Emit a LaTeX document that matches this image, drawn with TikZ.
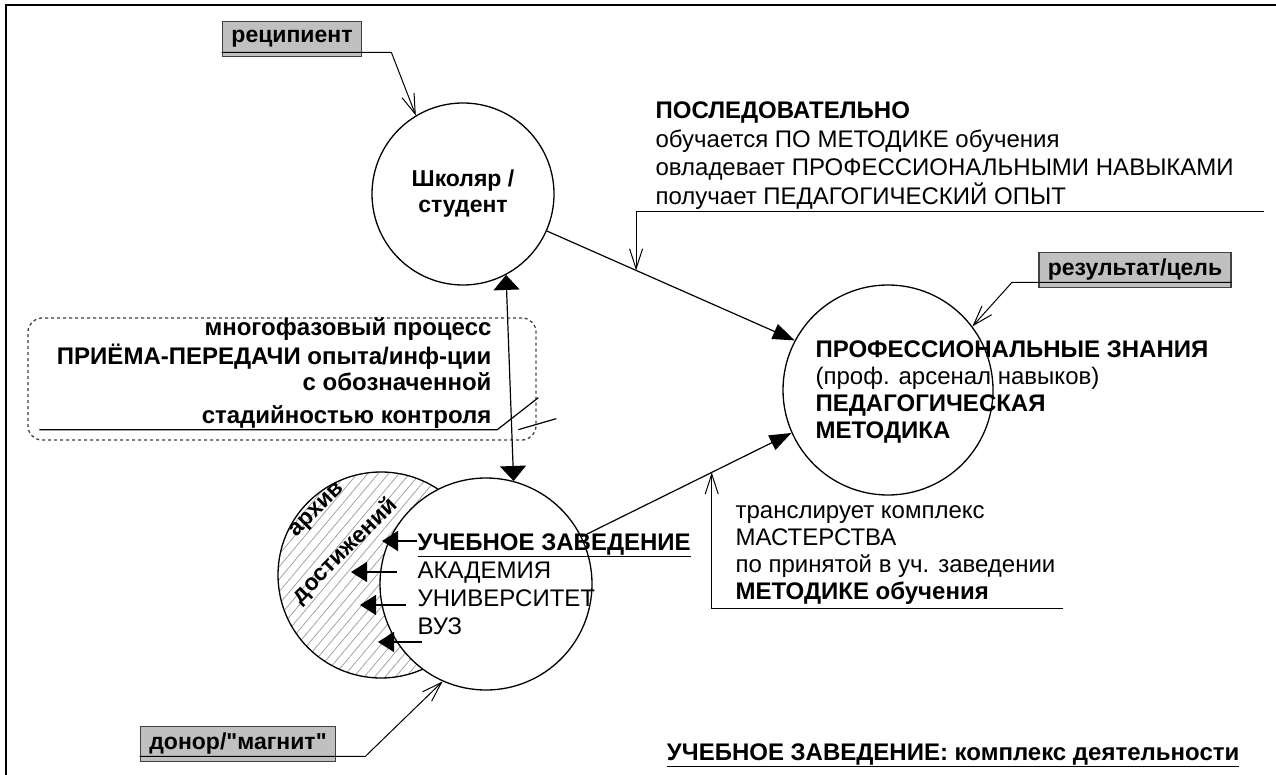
\documentclass[tikz,border=0pt]{standalone}
\usepackage{fontspec}
\setmainfont{Liberation Sans}[Ligatures=TeXOff]
\usetikzlibrary{arrows.meta,patterns.meta}

\definecolor{tagfill}{HTML}{C0C0C0}
\definecolor{tagline}{HTML}{404040}

\begin{document}
\begin{tikzpicture}
  [x=1pt,y=-1pt,line width=1.2pt,
   ring/.style={circle,draw,line width=1.3pt,inner sep=0pt},
   tagbox/.style={draw=tagline,fill=tagfill,line width=1.6pt,inner xsep=9pt,
     minimum height=35pt,font=\fontsize{23}{26}\selectfont\bfseries},
   txt/.style={inner sep=0pt,align=left,anchor=north west},
   solidtip/.style={-{Triangle[length=22pt,width=16pt]}},
   smalltip/.style={-{Triangle[length=16pt,width=20pt]}},
   bothtip/.style={{Triangle[length=15pt,width=26pt]}-{Triangle[length=15pt,width=26pt]}},
   barb/.style={-{Straight Barb[length=20pt,width=13pt]},line width=1pt}]
  \useasboundingbox (0,0) rectangle (1276,775);
  % frame
  \draw[line width=2.2pt] (6,775) -- (6,5) -- (1276,5);

  % circles
  \node[ring,minimum size=206pt,
    pattern={Lines[angle=50,distance=8pt,line width=.7pt]},pattern color=gray!80]
    (arch) at (381,575) {};
  \node[ring,minimum size=212pt,fill=white] (uz) at (486,584) {};
  \node[ring,minimum size=182pt,align=center,
    font=\fontsize{23}{26}\selectfont\bfseries] (stud) at (463,194) {Школяр /\\студент};
  \node[ring,minimum size=210pt] (prof) at (888,390) {};

  % archive label
  \node[rotate=45,inner sep=0pt,font=\fontsize{23}{26}\selectfont\bfseries]
    (archa) at (318,511) {архив};
  \node[rotate=45,inner sep=0pt,font=\fontsize{23}{26}\selectfont\bfseries]
    (archb) at (345,551) {достижений};

  % texts
  \node[txt,font=\fontsize{24}{28}\selectfont] (uztxt) at (417,530)
    {\strut\underline{\textbf{УЧЕБНОЕ ЗАВЕДЕНИЕ}}\\АКАДЕМИЯ\\УНИВЕРСИТЕТ\\ВУЗ};
  \node[txt,font=\fontsize{24}{27}\selectfont] (proftxt) at (815,338)
    {\strut\textbf{ПРОФЕССИОНАЛЬНЫЕ ЗНАНИЯ}\\(проф. арсенал навыков)\\
     \textbf{ПЕДАГОГИЧЕСКАЯ}\\\textbf{МЕТОДИКА}};
  \node[txt,font=\fontsize{24}{28.5}\selectfont] (seq) at (655,98)
    {\strut\textbf{ПОСЛЕДОВАТЕЛЬНО}\\обучается ПО МЕТОДИКЕ обучения\\
     овладевает ПРОФЕССИОНАЛЬНЫМИ НАВЫКАМИ\\получает ПЕДАГОГИЧЕСКИЙ ОПЫТ};
  \node[txt,font=\fontsize{24}{27}\selectfont] (trans) at (735,499)
    {\strut транслирует комплекс\\МАСТЕРСТВА\\по принятой в уч. заведении\\
     \textbf{МЕТОДИКЕ обучения}};

  % process box
  \node[draw=tagline,dashed,rounded corners=14pt,line width=1.3pt,
    minimum width=508pt,minimum height=122pt] (proc) at (282,379) {};
  \node[inner sep=0pt,align=right,anchor=north east,
    font=\fontsize{24}{25.5}\selectfont\bfseries] (proctxt) at (492,317)
    {\strut многофазовый процесс\\ПРИЁМА-ПЕРЕДАЧИ опыта/инф-ции\\
     с обозначенной\\[7.5pt]стадийностью контроля};
  \draw ([xshift=12pt,yshift=11pt]proc.south west) coordinate (pu)
    -- ++(458,0) -- ++(41,-32);
  \draw ([xshift=479pt]pu) -- ++(38,-11);

  % labels
  \node[tagbox] (rec) at (292,39) {реципиент};
  \node[tagbox] (res) at (1135,270) {результат/цель};
  \node[tagbox] (don) at (238,744) {донор/"магнит"};

  \node[inner sep=0pt,anchor=base east,font=\fontsize{24}{28}\selectfont\bfseries]
    (title) at (1240,760) {\underline{УЧЕБНОЕ ЗАВЕДЕНИЕ: комплекс деятельности}};

  % connectors
  \draw[solidtip] (stud) -- coordinate[pos=0.36] (m1) (prof.152);
  \draw[solidtip] (uz) -- coordinate[pos=0.62] (m2) (prof.204);
  \draw[bothtip] (stud.-62) -- (uz.75);

  \coordinate (seqr) at (1264,212);
  \draw[barb] (seqr) -| (m1);
  \coordinate (transr) at (1063,608);
  \draw[barb] (transr) -| (m2);

  \draw[barb] ([yshift=5pt]rec.south west) -- ([yshift=5pt]rec.south east)
    -- ++(29,0) -- (stud.121);
  \draw[barb] ([yshift=6pt]res.south east) -- ([yshift=6pt]res.south west)
    -- ++(-26,0) -- (prof.37);
  \draw[barb] ([yshift=6pt]don.south west) -- ([yshift=6pt]don.south east)
    -- ++(29,0) -- (uz.-114);

  \foreach \i/\y/\a/\b in {1/541/417/382,2/572/397/351,3/605/406/360,4/642/422/378}
    {\coordinate (s\i) at (\a,\y);
     \coordinate (e\i) at (\b,\y);
     \draw[smalltip] (s\i) -- (e\i);}
\end{tikzpicture}
\end{document}
